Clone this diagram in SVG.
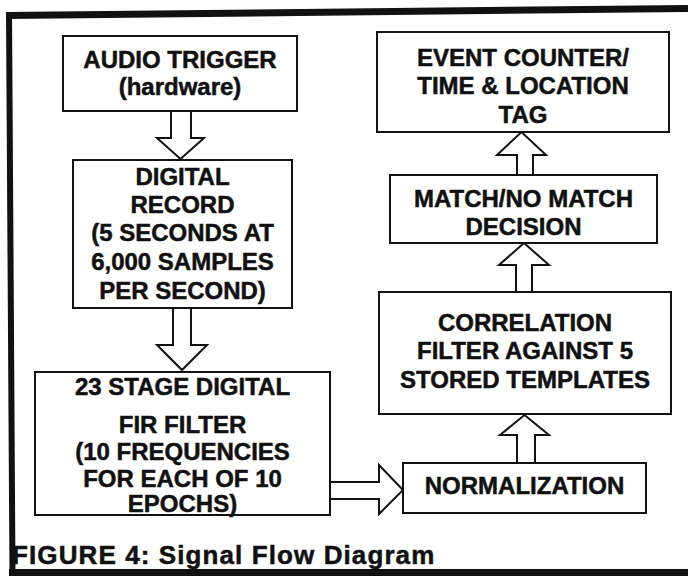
<svg xmlns="http://www.w3.org/2000/svg" width="688" height="576" viewBox="0 0 688 576">
<style>
.box{fill:#fff;stroke:#111;stroke-width:2}
.arr{fill:#fff;stroke:#111;stroke-width:2;stroke-linejoin:miter}
.t{font-family:"Liberation Sans",Arial,sans-serif;font-weight:bold;font-size:24px;fill:#111;stroke:#111;stroke-width:0.5;text-anchor:middle}
.cap{font-family:"Liberation Sans",Arial,sans-serif;font-weight:bold;font-size:26px;fill:#111;stroke:#111;stroke-width:0.5;letter-spacing:1.1px}
.frame{stroke:#111;fill:none}
</style>
<rect width="688" height="576" fill="#fff"/>
<g id="frame">
<line class="frame" x1="6" y1="15.5" x2="688" y2="8.5" stroke-width="7"/>
<line class="frame" x1="9" y1="12" x2="12.5" y2="576" stroke-width="6"/>
<line class="frame" x1="9" y1="572.5" x2="688" y2="572.5" stroke-width="7"/>
</g>
<g id="connectors">
<polygon class="arr" points="171,111 191,111 191,138 204,138 180.5,159 157,138 171,138"/>
<polygon class="arr" points="173,308 191,308 191,345 207,345 182,370 157,345 173,345"/>
<polygon class="arr" points="330,482 379,482 379,465 403,490 379,514 379,499 330,499"/>
<polygon class="arr" points="517,463 517,435 500,435 524.5,415 549,435 535,435 535,463"/>
<polygon class="arr" points="516,292 516,265 499,265 524,243 549,265 532,265 532,292"/>
<polygon class="arr" points="517,175 517,155 497,155 521.5,132 546,155 533,155 533,175"/>
</g>
<g id="audio-trigger">
<rect class="box" x="63" y="36" width="234" height="75"/>
<text class="t" x="180" y="68">AUDIO TRIGGER</text>
<text class="t" x="180" y="95">(hardware)</text>
</g>
<g id="digital-record">
<rect class="box" x="73" y="160" width="219" height="148"/>
<text class="t" x="182.5" y="185">DIGITAL</text>
<text class="t" x="182.5" y="213">RECORD</text>
<text class="t" x="182.5" y="241">(5 SECONDS AT</text>
<text class="t" x="182.5" y="270">6,000 SAMPLES</text>
<text class="t" x="182.5" y="299">PER SECOND)</text>
</g>
<g id="fir-filter">
<rect class="box" x="35" y="372" width="295" height="143"/>
<text class="t" x="182.5" y="395">23 STAGE DIGITAL</text>
<text class="t" x="182.5" y="433">FIR FILTER</text>
<text class="t" x="182.5" y="460">(10 FREQUENCIES</text>
<text class="t" x="182.5" y="487">FOR EACH OF 10</text>
<text class="t" x="182.5" y="512">EPOCHS)</text>
</g>
<g id="normalization">
<rect class="box" x="403" y="463" width="243" height="50"/>
<text class="t" x="524.5" y="494">NORMALIZATION</text>
</g>
<g id="correlation">
<rect class="box" x="379" y="292" width="292" height="122"/>
<text class="t" x="525" y="331">CORRELATION</text>
<text class="t" x="525" y="359">FILTER AGAINST 5</text>
<text class="t" x="525" y="388">STORED TEMPLATES</text>
</g>
<g id="match-decision">
<rect class="box" x="390" y="175" width="267" height="68"/>
<text class="t" x="523.5" y="207">MATCH/NO MATCH</text>
<text class="t" x="523.5" y="235">DECISION</text>
</g>
<g id="event-counter">
<rect class="box" x="377" y="32" width="292" height="100"/>
<text class="t" x="523" y="66">EVENT COUNTER/</text>
<text class="t" x="523" y="94">TIME &amp; LOCATION</text>
<text class="t" x="523" y="123">TAG</text>
</g>
<g id="caption">
<text class="cap" x="12" y="564">FIGURE 4: Signal Flow Diagram</text>
</g>
</svg>
